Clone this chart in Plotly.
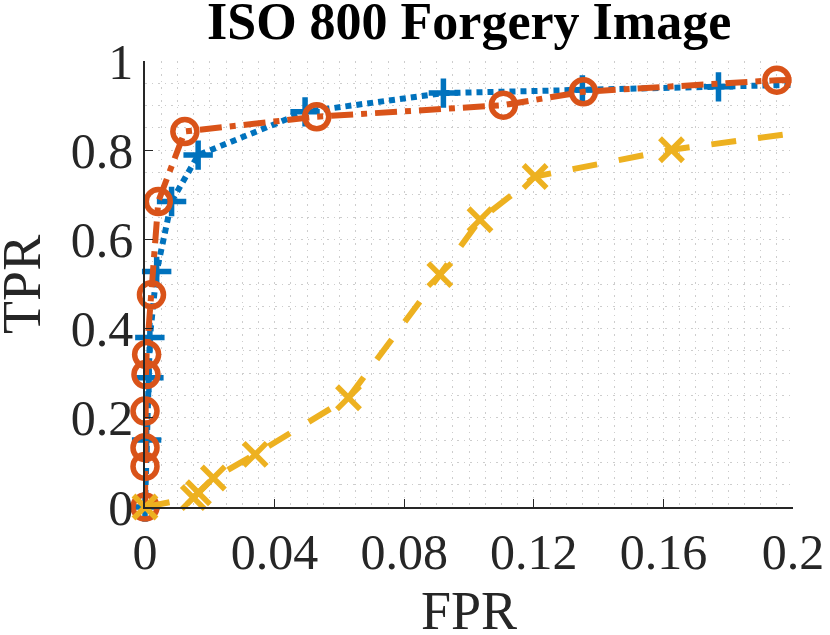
import plotly.graph_objects as go

# ROC points
blue_fpr = [0, 0.0005, 0.0012, 0.0015, 0.0036, 0.0082, 0.0164, 0.0494,
            0.0921, 0.135, 0.177, 0.25]
blue_tpr = [0, 0.15, 0.29, 0.38, 0.528, 0.685, 0.789, 0.886,
            0.928, 0.935, 0.942, 0.955]

orange_fpr = [0, 0, 0, 0, 0.0003, 0.0005, 0.002, 0.0041, 0.0123, 0.053,
              0.1106, 0.1353, 0.195, 0.25]
orange_tpr = [0, 0.091, 0.133, 0.215, 0.297, 0.342, 0.476, 0.685, 0.842, 0.875,
              0.901, 0.931, 0.957, 0.962]

yellow_fpr = [0, 0.0149, 0.0165, 0.0211, 0.034, 0.0628, 0.091, 0.1034,
              0.1204, 0.1625, 0.25]
yellow_tpr = [0, 0.021, 0.032, 0.065, 0.118, 0.245, 0.521, 0.644,
              0.741, 0.801, 0.887]

x_ticks = [0, 0.04, 0.08, 0.12, 0.16, 0.2]
x_tick_labels = ["0", "0.04", "0.08", "0.12", "0.16", "0.2"]
y_ticks = [0, 0.2, 0.4, 0.6, 0.8, 1]
y_tick_labels = ["0", "0.2", "0.4", "0.6", "0.8", "1"]

X_MAX = 0.2
TEXT = "#262626"
GRID = "#cdcdcd"
SERIF = "Liberation Serif"

series = [
    (blue_fpr, blue_tpr, "#0072BD", "6px,5px", "cross-thin-open", 21),
    (orange_fpr, orange_tpr, "#D95319", "22px,8px,6px,8px", "circle-open", 24),
    (yellow_fpr, yellow_tpr, "#EDB120", "25px,22px", "x-thin-open", 23),
]

fig = go.Figure()
for fpr, tpr, color, dash, symbol, size in series:
    fig.add_trace(go.Scatter(
        x=fpr, y=tpr, mode="lines",
        line=dict(color=color, width=6, dash=dash),
        hoverinfo="skip", showlegend=False,
    ))
    # markers only for points inside the visible range
    shown = [(a, b) for a, b in zip(fpr, tpr) if a <= X_MAX]
    fig.add_trace(go.Scatter(
        x=[p[0] for p in shown], y=[p[1] for p in shown], mode="markers",
        marker=dict(symbol=symbol, size=size, color=color,
                    line=dict(color=color, width=5.5)),
        cliponaxis=False, showlegend=False,
    ))

axis_common = dict(
    showline=True, linecolor=TEXT, linewidth=1.5,
    ticks="inside", ticklen=8, tickcolor=TEXT, tickwidth=1.2,
    tickfont=dict(family=SERIF, size=50, color=TEXT),
    showgrid=True, gridcolor=GRID, gridwidth=1, griddash="1.5px,5px",
    zeroline=False, mirror=False, automargin=False,
)

fig.update_xaxes(
    range=[0, X_MAX], tickvals=x_ticks, ticktext=x_tick_labels,
    minor=dict(dtick=0.005, showgrid=True, gridcolor=GRID,
               gridwidth=1, griddash="1.5px,5px"),
    **axis_common,
)
fig.update_yaxes(
    range=[0, 1], tickvals=y_ticks, ticktext=y_tick_labels,
    minor=dict(dtick=0.05, showgrid=True, gridcolor=GRID,
               gridwidth=1, griddash="1.5px,5px"),
    **axis_common,
)

fig.update_layout(
    width=830, height=635,
    margin=dict(l=145, r=37, t=61, b=128),
    paper_bgcolor="white", plot_bgcolor="white",
    annotations=[
        dict(text="<b>ISO 800 Forgery Image</b>", x=0.5, y=1, xref="paper",
             yref="paper", xanchor="center", yanchor="bottom", yshift=9,
             showarrow=False, font=dict(family=SERIF, size=52, color="black")),
        dict(text="FPR", x=0.5, y=0, xref="paper", yref="paper",
             xanchor="center", yanchor="top", yshift=-72, showarrow=False,
             font=dict(family=SERIF, size=54, color=TEXT)),
        dict(text="TPR", x=-0.19, y=0.5, xref="paper", yref="paper",
             xanchor="center", yanchor="middle", textangle=-90,
             showarrow=False, font=dict(family=SERIF, size=54, color=TEXT)),
    ],
)

# drop the default 8px body margin so the figure fills the window
fig.write_html("out.html", config={"displayModeBar": False},
               post_script="document.body.style.margin = '0';")
